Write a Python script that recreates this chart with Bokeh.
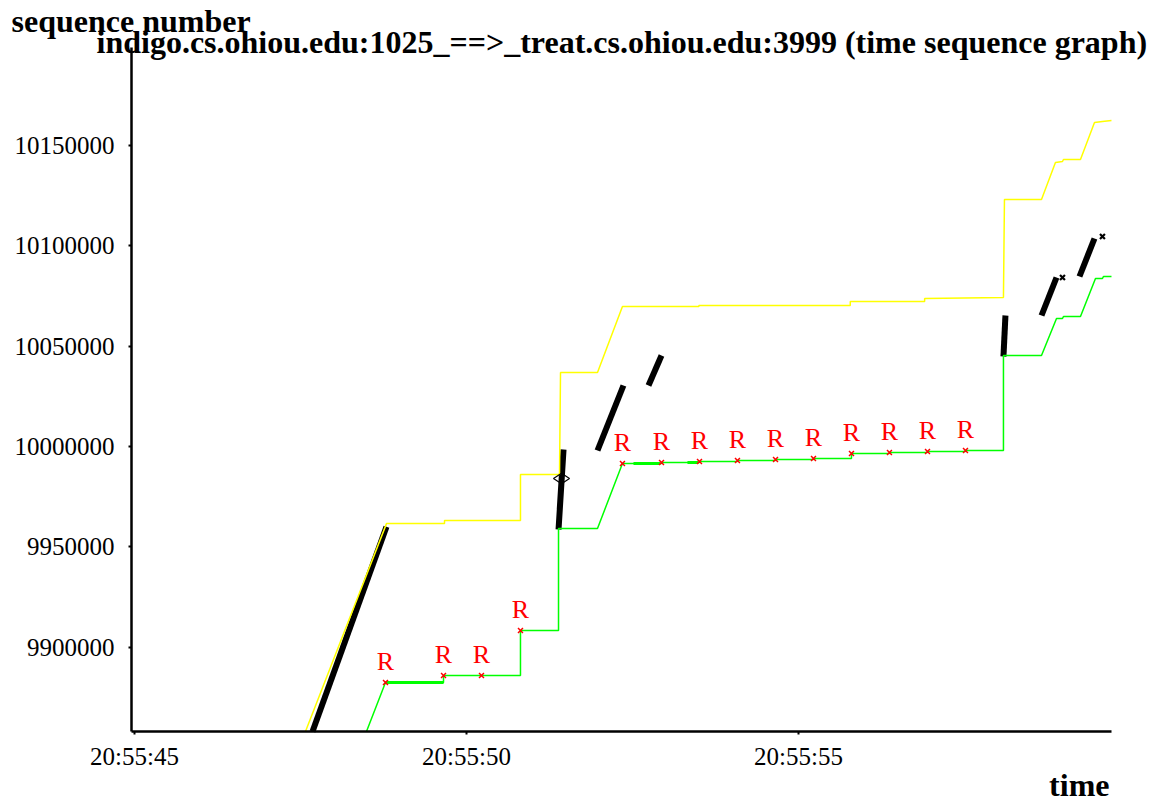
import math
from bokeh.plotting import figure
from bokeh.models import FixedTicker, Label
from bokeh.embed import file_html
from bokeh.resources import INLINE
from bokeh.core.properties import value

FONT = "Liberation Serif"

# time axis: seconds past 20:55:00
x_ticks = [45, 50, 55]
x_tick_labels = ["20:55:45", "20:55:50", "20:55:55"]
y_ticks = [9900000, 9950000, 10000000, 10050000, 10100000, 10150000]

# extent of the drawn axes (time, sequence number)
t_lo, t_hi = 44.955, 59.714
s_lo, s_hi = 9858070, 10198700

# advertised receive window (yellow)
win_t = [47.575, 48.795, 49.669, 49.669, 50.813, 50.813, 51.401, 51.416, 51.973,
         52.349, 53.500, 53.500, 55.780, 55.780, 56.900, 56.900, 58.087, 58.102,
         58.660, 58.870, 58.976, 58.991, 59.247, 59.458, 59.578, 59.714]
win_s = [9858070, 9961600, 9961600, 9963150, 9963150, 9986056, 9986056, 10036852, 10036852,
         10069720, 10069720, 10070218, 10070218, 10072210, 10072210, 10073706, 10074200, 10123006,
         10123006, 10141432, 10141930, 10142926, 10142926, 10161352, 10161850, 10162348]

# cumulative acknowledgements (green)
ack_t = [48.494, 48.780, 49.654, 49.654, 50.813, 50.813, 51.386, 51.386, 51.973,
         52.349, 52.937, 52.937, 53.509, 53.509, 54.081, 54.081, 54.654, 54.654,
         55.226, 55.226, 55.798, 55.798, 56.370, 56.370, 56.943, 56.943, 57.515,
         57.515, 58.087, 58.087, 58.660, 58.886, 58.976, 58.991, 59.247, 59.473,
         59.578, 59.593, 59.714]
ack_s = [9858070, 9882472, 9882472, 9885958, 9885958, 9908368, 9908368, 9959164, 9959164,
         9991534, 9991534, 9992032, 9992032, 9992530, 9992530, 9993028, 9993028, 9993526,
         9993526, 9994024, 9994024, 9996514, 9996514, 9997012, 9997012, 9997510, 9997510,
         9998008, 9998008, 10045318, 10045318, 10063744, 10063744, 10064740, 10064740, 10083664,
         10083664, 10084660, 10084660]

# duplicate acks (heavier green)
dup_t0 = [48.780, 52.515, 53.328]
dup_t1 = [49.654, 52.922, 53.494]
dup_s = [9882472, 9991534, 9992032]

# transmitted segment bursts (black)
seg_t0 = [47.681, 51.386, 51.973, 52.741, 58.087, 58.660, 59.232]
seg_s0 = [9858070, 9958666, 9998008, 10030378, 10044820, 10065238, 10084660]
seg_t1 = [48.795, 51.461, 52.364, 52.937, 58.117, 58.886, 59.458]
seg_s1 = [9960000, 9998506, 10030378, 10045318, 10065238, 10084162, 10103584]

# window probe marks and SYN diamond
win_mark_t = [58.976, 59.578]
win_mark_s = [10084162, 10104580]
diamond_t = [51.431]
diamond_s = [9984064]

# retransmission marks (red x with "R")
ret_t = [48.780, 49.654, 50.226, 50.813, 52.349, 52.937, 53.509, 54.081, 54.654,
         55.226, 55.798, 56.370, 56.943, 57.515]
ret_s = [9882472, 9885958, 9885958, 9908368, 9991534, 9992032, 9992530, 9993028, 9993526,
         9994024, 9996514, 9997012, 9997510, 9998008]

# the frame fills the whole canvas; axes are pinned at the lower-left corner of the data area
p = figure(width=1157, height=803, output_backend="svg", toolbar_location=None,
           x_range=(42.982, 60.407), y_range=(9822214, 10222108),
           min_border=0)
p.title = None
p.outline_line_color = None
p.xgrid.visible = False
p.ygrid.visible = False
p.background_fill_color = "white"
p.border_fill_color = "white"

p.xaxis.fixed_location = s_lo
p.yaxis.fixed_location = t_lo
p.xaxis.bounds = (t_lo, t_hi)
p.yaxis.bounds = (s_lo, s_hi)

p.xaxis.ticker = FixedTicker(ticks=x_ticks)
p.xaxis.major_label_overrides = {t: lab for t, lab in zip(x_ticks, x_tick_labels)}
p.yaxis.ticker = FixedTicker(ticks=y_ticks)
p.yaxis.major_label_overrides = {v: str(v) for v in y_ticks}
for ax in (p.xaxis, p.yaxis):
    ax.axis_line_width = 2.5
    ax.axis_line_color = "black"
    ax.major_tick_in = 0
    ax.major_tick_out = 3
    ax.major_tick_line_width = 2
    ax.minor_tick_line_color = None
    ax.major_label_text_font = FONT
    ax.major_label_text_font_size = "25px"
    ax.major_label_text_color = "black"
p.xaxis.major_label_standoff = 8
p.yaxis.major_label_standoff = 14

p.segment(seg_t0, seg_s0, seg_t1, seg_s1, line_color="black", line_width=6)
p.line(win_t, win_s, line_color="#ffff00", line_width=1.5)
p.line(ack_t, ack_s, line_color="#00ff00", line_width=1.5)
p.segment(dup_t0, dup_s, dup_t1, dup_s, line_color="#00ff00", line_width=3)
p.scatter(win_mark_t, win_mark_s, marker="x", size=7, line_color="black", line_width=2.2)
p.scatter(diamond_t, diamond_s, marker="diamond", angle=math.pi / 2, size=16,
          fill_color=None, line_color="black", line_width=1.2)
p.scatter(ret_t, ret_s, marker="x", size=7, line_color="#ff0000", line_width=1.5)
p.text(ret_t, ret_s, text=["R"] * len(ret_t), text_color="#ff0000",
       text_font=value(FONT), text_font_size="26px", text_align="center",
       text_baseline="alphabetic", y_offset=-21)

p.add_layout(Label(x=96, y=762, x_units="screen", y_units="screen",
                   text="indigo.cs.ohiou.edu:1025_==>_treat.cs.ohiou.edu:3999 (time sequence graph)",
                   text_font=FONT, text_font_style="bold", text_font_size="32px",
                   text_color="black", text_baseline="alphabetic", text_align="left"))
p.add_layout(Label(x=11, y=783, x_units="screen", y_units="screen",
                   text="sequence number", text_font=FONT, text_font_style="bold",
                   text_font_size="32px", text_color="black",
                   text_baseline="alphabetic", text_align="left"))
p.add_layout(Label(x=1109, y=19, x_units="screen", y_units="screen",
                   text="time", text_font=FONT, text_font_style="bold",
                   text_font_size="32px", text_color="black",
                   text_baseline="alphabetic", text_align="right"))

open("out.html", "w").write(file_html(p, INLINE))
